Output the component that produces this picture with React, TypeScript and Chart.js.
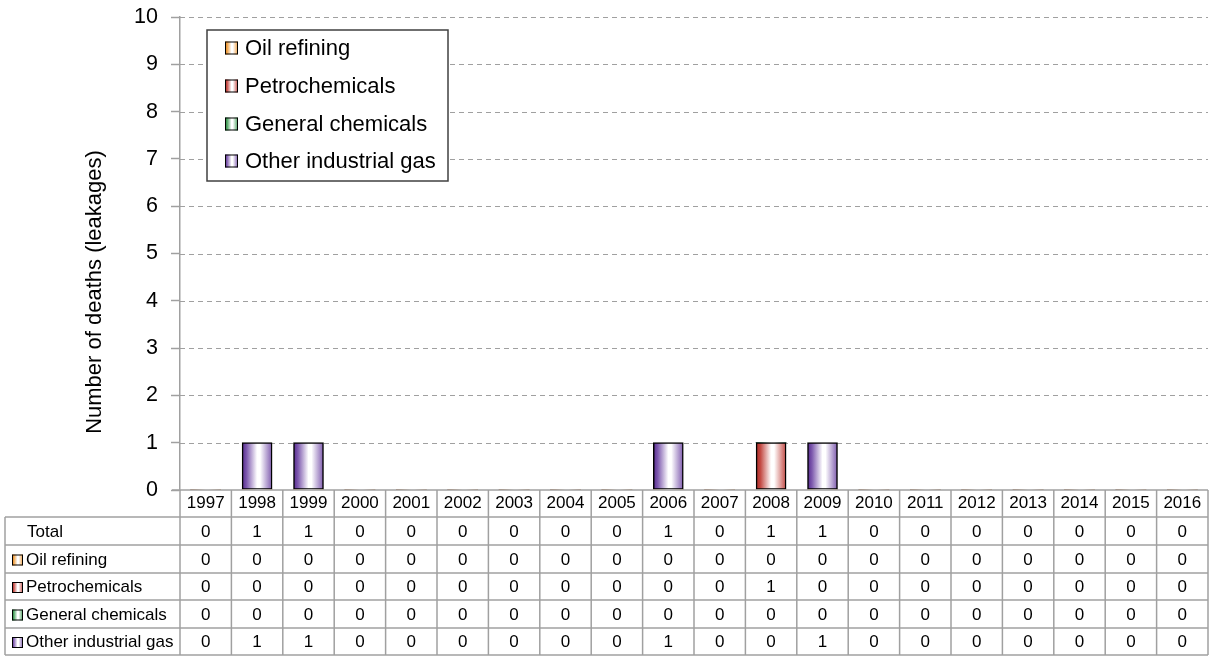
import React, { useEffect, useRef } from "react";
import { Chart, registerables } from "chart.js";

Chart.register(...registerables);

const years = ["1997","1998","1999","2000","2001","2002","2003","2004","2005","2006","2007","2008","2009","2010","2011","2012","2013","2014","2015","2016"];
const oilRefining = [0,0,0,0,0,0,0,0,0,0,0,0,0,0,0,0,0,0,0,0];
const petrochemicals = [0,0,0,0,0,0,0,0,0,0,0,1,0,0,0,0,0,0,0,0];
const generalChemicals = [0,0,0,0,0,0,0,0,0,0,0,0,0,0,0,0,0,0,0,0];
const otherIndustrialGas = [0,1,1,0,0,0,0,0,0,1,0,0,1,0,0,0,0,0,0,0];
const totals = [0,1,1,0,0,0,0,0,0,1,0,1,1,0,0,0,0,0,0,0];
const yTicks = [0,1,2,3,4,5,6,7,8,9,10];

const seriesNames = ["Oil refining", "Petrochemicals", "General chemicals", "Other industrial gas"];
const seriesData = [oilRefining, petrochemicals, generalChemicals, otherIndustrialGas];
const seriesDark = ["#E07F15", "#B02A25", "#24803C", "#55288E"];
const seriesMid = ["#EE9E40", "#C44B45", "#48A05C", "#7E5AAE"];

const FONT = "'Liberation Sans', Arial, sans-serif";
const GRAY = "#A0A0A0";

function makeGrad(ctx: CanvasRenderingContext2D, x0: number, x1: number, i: number) {
  const g = ctx.createLinearGradient(x0, 0, x1, 0);
  g.addColorStop(0, seriesDark[i]);
  g.addColorStop(0.15, seriesMid[i]);
  g.addColorStop(0.5, "#FFFFFF");
  g.addColorStop(0.6, "#FFFFFF");
  g.addColorStop(1, seriesMid[i]);
  return g;
}

export default function App() {
  const ref = useRef<HTMLCanvasElement | null>(null);
  useEffect(() => {
    const canvas = ref.current;
    if (!canvas) return;
    const BAR_W = 30;
    const gridPlugin = {
      id: "dashGrid",
      beforeDatasetsDraw(chart: any) {
        const { ctx, chartArea } = chart;
        const ys = chart.scales.y;
        ctx.save();
        ctx.strokeStyle = GRAY;
        ctx.lineWidth = 1;
        ctx.setLineDash([5, 4]);
        yTicks.forEach((v) => {
          if (v === 0) return;
          const y = Math.round(ys.getPixelForValue(v)) + 0.5;
          ctx.beginPath();
          ctx.moveTo(chartArea.left, y);
          ctx.lineTo(chartArea.right, y);
          ctx.stroke();
        });
        ctx.restore();
      },
    };
    const tablePlugin = {
      id: "tableLegend",
      afterDraw(chart: any) {
        const { ctx, chartArea } = chart;
        const xs = chart.scales.x;
        const left = chartArea.left;
        const right = chartArea.right;
        const n = years.length;
        const colW = (right - left) / n;
        const rowLines = [517, 545, 573, 600, 628, 655];
        const tableLeft = 5;
        ctx.save();
        ctx.strokeStyle = GRAY;
        ctx.lineWidth = 1.5;
        ctx.setLineDash([]);
        ctx.beginPath();
        ctx.moveTo(left - 8, chartArea.bottom);
        ctx.lineTo(right, chartArea.bottom);
        ctx.stroke();
        rowLines.forEach((y) => {
          ctx.beginPath();
          ctx.moveTo(tableLeft, y);
          ctx.lineTo(right, y);
          ctx.stroke();
        });
        for (let i = 0; i <= n; i++) {
          const x = left + i * colW;
          ctx.beginPath();
          ctx.moveTo(x, chartArea.bottom);
          ctx.lineTo(x, 655);
          ctx.stroke();
        }
        ctx.beginPath();
        ctx.moveTo(tableLeft, 517);
        ctx.lineTo(tableLeft, 655);
        ctx.stroke();
        ctx.fillStyle = "#000";
        ctx.font = `17px ${FONT}`;
        ctx.textAlign = "center";
        ctx.textBaseline = "middle";
        years.forEach((yr, i) => {
          const cx = xs.getPixelForValue(i);
          ctx.fillText(yr, cx, 503);
        });
        const rows = [totals, ...seriesData];
        rows.forEach((vals, r) => {
          const cy = (rowLines[r] + rowLines[r + 1]) / 2 + 1;
          vals.forEach((v, i) => {
            const cx = xs.getPixelForValue(i);
            ctx.fillText(String(v), cx, cy);
          });
        });
        ctx.textAlign = "left";
        ctx.fillText("Total", 27, (rowLines[0] + rowLines[1]) / 2 + 1);
        seriesNames.forEach((name, s) => {
          const cy = (rowLines[s + 1] + rowLines[s + 2]) / 2 + 1;
          const sx = 12, sz = 11;
          ctx.fillStyle = makeGrad(ctx, sx, sx + sz, s);
          ctx.fillRect(sx, cy - sz / 2, sz, sz);
          ctx.strokeStyle = "#000";
          ctx.lineWidth = 1;
          ctx.strokeRect(sx + 0.5, cy - sz / 2 + 0.5, sz - 1, sz - 1);
          ctx.fillStyle = "#000";
          ctx.fillText(name, 26, cy);
        });
        ctx.fillStyle = "#FFFFFF";
        ctx.fillRect(207, 30, 241, 151);
        ctx.strokeStyle = "#404040";
        ctx.lineWidth = 1.5;
        ctx.strokeRect(207, 30, 241, 151);
        ctx.font = `22px ${FONT}`;
        ctx.textAlign = "left";
        ctx.textBaseline = "middle";
        const legY = [48, 86, 124, 161];
        seriesNames.forEach((name, s) => {
          const cy = legY[s];
          const sx = 225, sz = 13;
          ctx.fillStyle = makeGrad(ctx, sx, sx + sz, s);
          ctx.fillRect(sx, cy - sz / 2, sz, sz);
          ctx.strokeStyle = "#000";
          ctx.lineWidth = 1;
          ctx.strokeRect(sx + 0.5, cy - sz / 2 + 0.5, sz - 1, sz - 1);
          ctx.fillStyle = "#000";
          ctx.fillText(name, 245, cy + 1);
        });
        ctx.save();
        ctx.translate(95, 292);
        ctx.rotate(-Math.PI / 2);
        ctx.textAlign = "center";
        ctx.textBaseline = "middle";
        ctx.font = `22px ${FONT}`;
        ctx.fillStyle = "#000";
        ctx.fillText("Number of deaths (leakages)", 0, 0);
        ctx.restore();
        ctx.restore();
      },
    };

    const datasets = seriesNames.map((name, s) => ({
      label: name,
      data: seriesData[s],
      barThickness: BAR_W,
      borderColor: "#000000",
      borderWidth: (c: any) => (c.raw > 0 ? 1.5 : 0),
      borderSkipped: false,
      backgroundColor: (c: any) => {
        const chart = c.chart;
        const xs = chart.scales && chart.scales.x;
        if (!xs || c.dataIndex === undefined || !chart.chartArea) return seriesDark[s];
        const cx = xs.getPixelForValue(c.dataIndex);
        return makeGrad(chart.ctx, cx - BAR_W / 2, cx + BAR_W / 2, s);
      },
    }));

    const chart = new Chart(canvas, {
      type: "bar",
      data: { labels: years, datasets },
      plugins: [gridPlugin, tablePlugin],
      options: {
        responsive: false,
        animation: false,
        layout: { padding: { top: 17, left: 0, right: 4, bottom: 167 } },
        plugins: { legend: { display: false }, tooltip: { enabled: false }, title: { display: false } },
        scales: {
          x: { display: false, stacked: true, offset: true },
          y: {
            stacked: true,
            min: 0,
            max: 10,
            afterFit: (scale: any) => { scale.width = 180; scale.paddingTop = 0; scale.paddingBottom = 0; },
            ticks: { stepSize: 1, color: "#000", font: { family: FONT, size: 21.5 }, padding: 13 },
            grid: { drawOnChartArea: false, drawTicks: true, tickLength: 9, tickColor: GRAY, tickWidth: 1.5 },
            border: { display: true, color: GRAY, width: 1.5 },
          },
        },
      } as any,
    });
    return () => chart.destroy();
  }, []);
  return (
    <div style={{ position: "fixed", left: 0, top: 0, width: 1212, height: 657, background: "#fff" }}>
      <canvas ref={ref} width={1212} height={657} style={{ display: "block" }} />
    </div>
  );
}
